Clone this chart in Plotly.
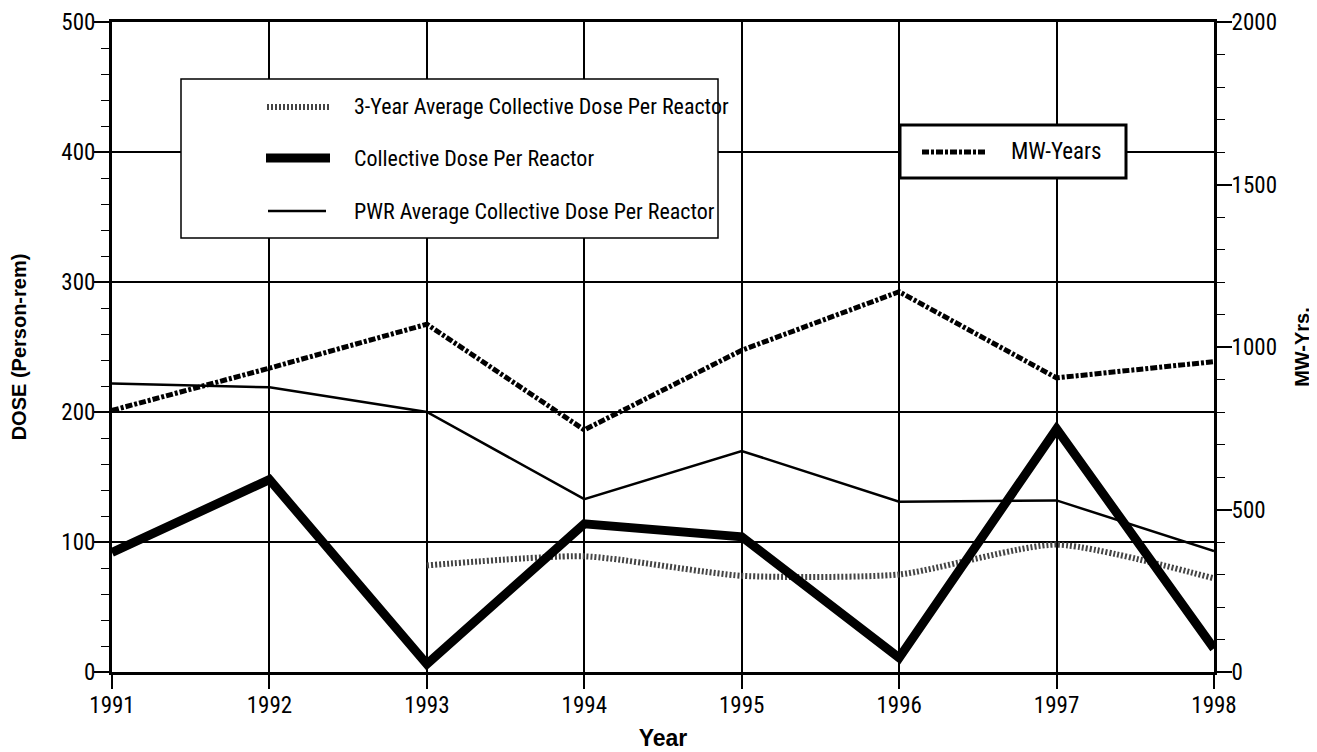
import plotly.graph_objects as go

# ---------------- data ----------------
years = [1991, 1992, 1993, 1994, 1995, 1996, 1997, 1998]
collective_dose = [92, 148, 6, 114, 104, 11, 187, 18]
pwr_avg_dose = [222, 219, 200, 133, 170, 131, 132, 93]
three_year_avg = [None, None, 82, 89, 74, 75, 98, 72]
mw_years = [805, 935, 1070, 745, 990, 1170, 905, 955]

left_ticks = [0, 100, 200, 300, 400, 500]
right_ticks = [0, 500, 1000, 1500, 2000]

legend_main = [
    "3-Year Average Collective Dose Per Reactor",
    "Collective Dose Per Reactor",
    "PWR Average Collective Dose Per Reactor",
]
legend_mw = "MW-Years"

# ---------------- layout constants ----------------
OFF = 8  # page body margin
W, H = 1317 - OFF, 752 - OFF
# plot area in screen pixels
SL, SR, ST, SB = 112, 1214, 22, 672
L, R, T, B = SL - OFF, SR - OFF, ST - OFF, SB - OFF
NARROW = "Roboto Condensed, Liberation Sans Narrow, Arial Narrow, sans-serif"
BOLD = "Liberation Sans, Arial, sans-serif"

def px(x):
    return (x - SL) / (SR - SL)

def py(y):
    return (SB - y) / (SB - ST)

style_3yr = dict(color="#444444", width=6, dash="2px,2px")
style_coll = dict(color="black", width=9)
style_pwr = dict(color="black", width=2.5)
style_mw = dict(color="black", width=5, dash="7px,2px,3px,2px")

fig = go.Figure()

fig.add_trace(go.Scatter(x=years, y=mw_years, mode="lines", yaxis="y2",
                         line=style_mw, name=legend_mw, showlegend=False))
fig.add_trace(go.Scatter(x=years, y=pwr_avg_dose, mode="lines",
                         line=style_pwr, name=legend_main[2], showlegend=False))
fig.add_trace(go.Scatter(x=years, y=three_year_avg, mode="lines",
                         line=dict(**style_3yr, shape="spline", smoothing=0.6),
                         name=legend_main[0], showlegend=False))
fig.add_trace(go.Scatter(x=years, y=collective_dose, mode="lines",
                         line=style_coll, name=legend_main[1], showlegend=False))

shapes = []
annotations = []

# main legend box
shapes.append(dict(type="rect", xref="paper", yref="paper", layer="above",
                   x0=px(181), x1=px(718), y0=py(238), y1=py(79),
                   fillcolor="white", line=dict(color="black", width=1.5)))
sym_y = [107, 158, 211]
sym_x = [(267, 330), (266, 330), (268, 326)]
sym_styles = [style_3yr, style_coll, style_pwr]
for label, yy, (xa, xb), st in zip(legend_main, sym_y, sym_x, sym_styles):
    shapes.append(dict(type="line", xref="paper", yref="paper", layer="above",
                       x0=px(xa), x1=px(xb), y0=py(yy), y1=py(yy), line=st))
    annotations.append(dict(xref="paper", yref="paper", x=px(352), y=py(yy),
                            xanchor="left", yanchor="middle", showarrow=False,
                            text=label, font=dict(family=NARROW, size=22, color="black")))

# MW-Years legend box
shapes.append(dict(type="rect", xref="paper", yref="paper", layer="above",
                   x0=px(900), x1=px(1126), y0=py(178), y1=py(125),
                   fillcolor="white", line=dict(color="black", width=3)))
shapes.append(dict(type="line", xref="paper", yref="paper", layer="above",
                   x0=px(922), x1=px(987), y0=py(152), y1=py(152), line=style_mw))
annotations.append(dict(xref="paper", yref="paper", x=px(1009), y=py(152),
                        xanchor="left", yanchor="middle", showarrow=False,
                        text=legend_mw, font=dict(family=NARROW, size=23, color="black")))

tickfont = dict(family=NARROW, size=23, color="black")

fig.update_layout(
    width=W, height=H,
    margin=dict(l=L, r=W - R, t=T, b=H - B, pad=0, autoexpand=False),
    paper_bgcolor="white", plot_bgcolor="white",
    showlegend=False,
    shapes=shapes, annotations=annotations,
    xaxis=dict(range=[1991, 1998], tickvals=years, ticktext=[str(y) for y in years],
               ticks="outside", ticklen=14, tickwidth=1.5, tickcolor="black",
               ticklabelstandoff=-4,
               showgrid=True, gridcolor="black", gridwidth=1.5,
               showline=True, linecolor="black", linewidth=3, mirror=True,
               zeroline=False, tickfont=tickfont, automargin=False,
               title=dict(text="<b>Year</b>", font=dict(family=BOLD, size=23, color="black"),
                          standoff=13)),
    yaxis=dict(range=[0, 500], tickvals=left_ticks,
               ticks="outside", ticklen=15, tickwidth=1.5, tickcolor="black",
               ticklabelstandoff=-6,
               minor=dict(dtick=20, ticks="outside", ticklen=8, tickwidth=1.2,
                          tickcolor="black", showgrid=False),
               showgrid=True, gridcolor="black", gridwidth=1.5,
               showline=True, linecolor="black", linewidth=3,
               zeroline=False, tickfont=tickfont, automargin=False,
               title=dict(text="<b>DOSE (Person-rem)</b>",
                          font=dict(family=BOLD, size=20, color="black"), standoff=30)),
    yaxis2=dict(range=[0, 2000], tickvals=right_ticks, overlaying="y", side="right",
                ticks="outside", ticklen=15, tickwidth=1.5, tickcolor="black",
                ticklabelstandoff=-5,
                minor=dict(dtick=100, ticks="outside", ticklen=8, tickwidth=1.2,
                           tickcolor="black", showgrid=False),
                showgrid=False, showline=True, linecolor="black", linewidth=3,
                zeroline=False, tickfont=tickfont, automargin=False,
                title=dict(text="<b>MW-Yrs.</b>",
                           font=dict(family=BOLD, size=20, color="black"), standoff=19)),
)

fig.write_html("out.html")
